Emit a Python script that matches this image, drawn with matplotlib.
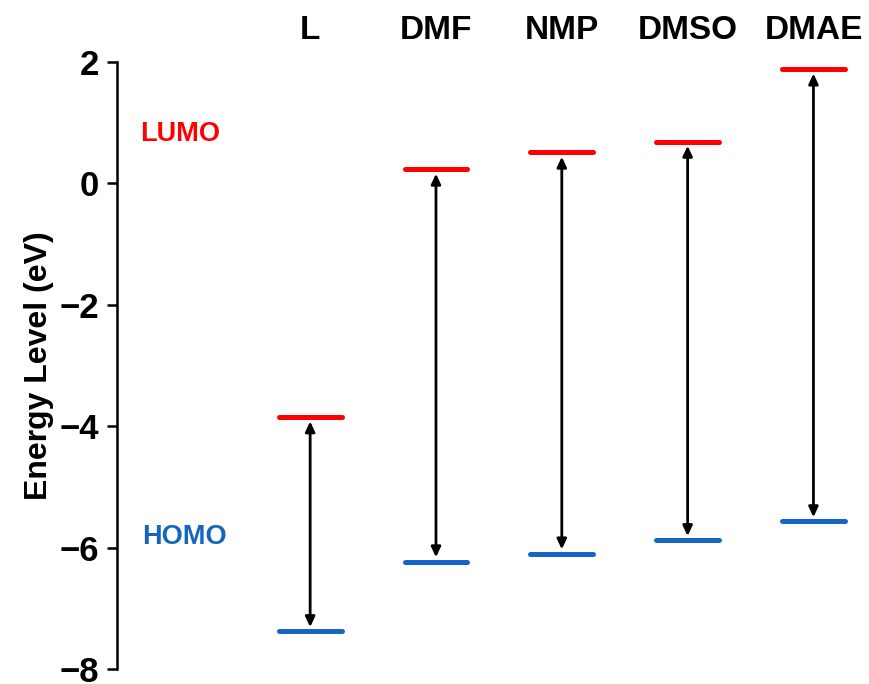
import matplotlib
matplotlib.use("Agg")
import matplotlib.pyplot as plt

categories = ["L", "DMF", "NMP", "DMSO", "DMAE"]
lumo = [-3.85, 0.23, 0.51, 0.69, 1.88]
homo = [-7.38, -6.23, -6.10, -5.88, -5.57]
yticks = [-8, -6, -4, -2, 0, 2]

plt.rcParams['font.family'] = ['Liberation Sans', 'DejaVu Sans']
plt.rcParams['font.weight'] = 'bold'

fig = plt.figure(figsize=(8.7, 6.84), dpi=100)
ax = fig.add_axes([117/870, 1-669/684, (860-117)/870, (669-62)/684])

red = '#FF0000'
blue = '#1565C8'
hw = 0.25
for i, (lu, ho) in enumerate(zip(lumo, homo)):
    ax.plot([i-hw, i+hw], [lu, lu], color=red, lw=3.6, solid_capstyle='round')
    ax.plot([i-hw, i+hw], [ho, ho], color=blue, lw=3.6, solid_capstyle='round')
    ax.annotate('', xy=(i, lu-0.07), xytext=(i, ho+0.07),
                arrowprops=dict(arrowstyle='<|-|>,head_length=0.6,head_width=0.28',
                                color='black', lw=2.0, shrinkA=0, shrinkB=0))
    ax.text(i, 2.52, categories[i], ha='center', va='center', fontsize=24,
            fontweight='bold', clip_on=False)

ax.text(-1.03, 0.82, 'LUMO', color=red, ha='center', va='center', fontsize=19.5, fontweight='bold')
ax.text(-1.0, -5.83, 'HOMO', color='#1565C0', ha='center', va='center', fontsize=19.5, fontweight='bold')

ax.set_xlim(-1.535, 4.37)
ax.set_ylim(-8, 2)
ax.set_yticks(yticks)
ax.set_yticklabels([("\u2212" + str(abs(t))) if t < 0 else str(t) for t in yticks],
                   fontsize=25, fontweight='bold')
ax.tick_params(axis='y', direction='out', length=7, width=1.8, pad=6)
ax.set_xticks([])
for s in ['top', 'right', 'bottom']:
    ax.spines[s].set_visible(False)
ax.spines['left'].set_linewidth(1.8)
ax.set_ylabel('Energy Level (eV)', fontsize=23, fontweight='bold', labelpad=4)

fig.savefig('out.png', dpi=100)
